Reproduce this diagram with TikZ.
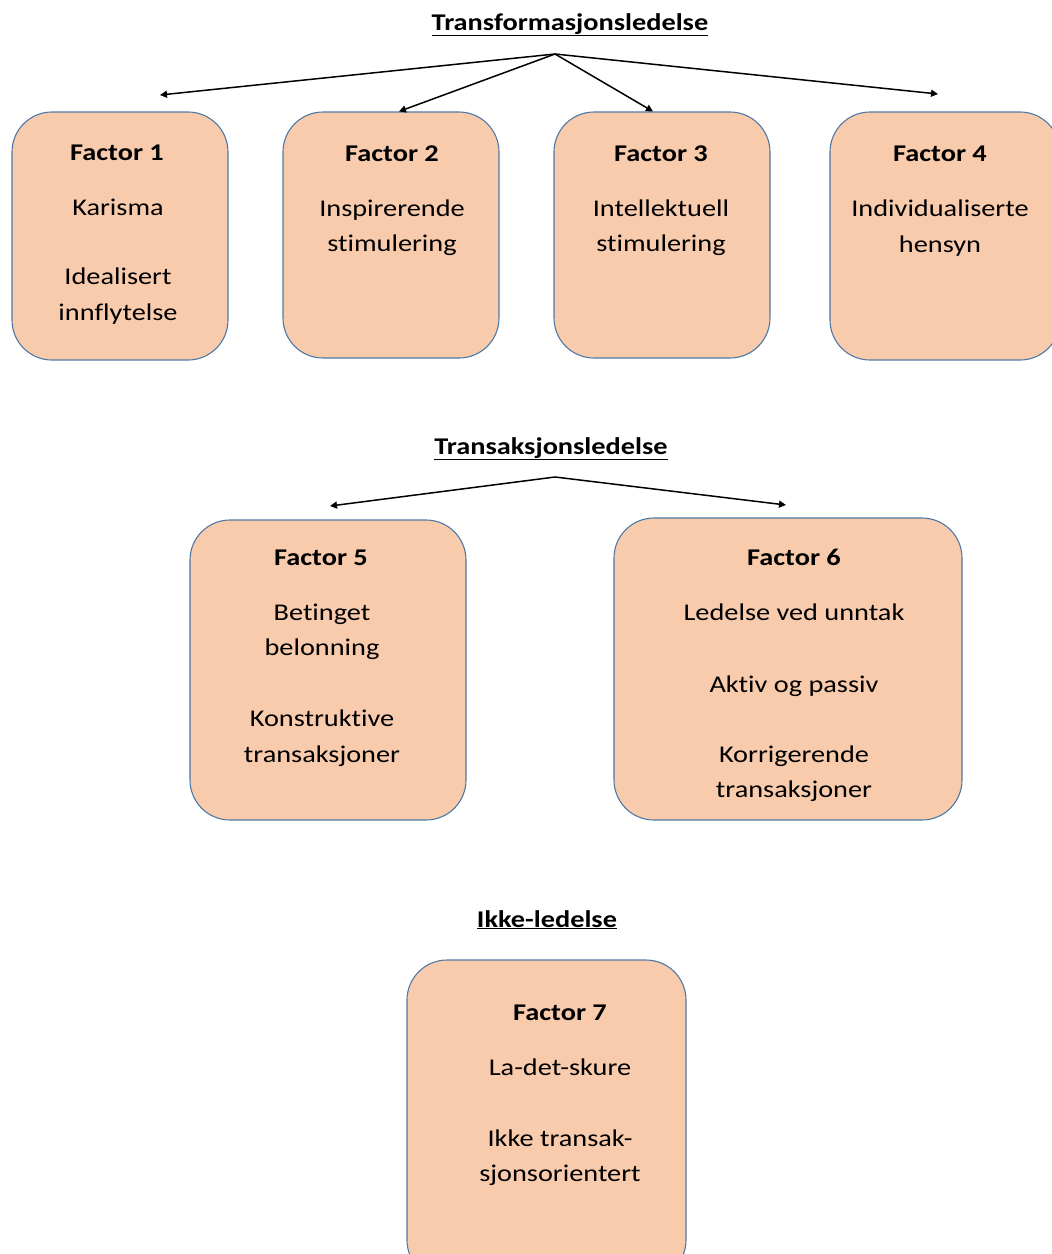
\documentclass[tikz,border=0pt]{standalone}
\usepackage{fontspec}
\setmainfont{Carlito}[FakeStretch=1.18, RawFeature={-liga;-clig;-calt;-dlig}]
\usetikzlibrary{arrows.meta}
\definecolor{boxfill}{HTML}{F8CBAD}
\definecolor{boxline}{HTML}{4F79A5}
\newcommand{\nl}{\kern0pt}
\tikzset{
  fbox/.style={draw=boxline, fill=boxfill, line width=1.1pt, rounded corners=40pt, inner sep=0pt},
  ftxt/.style={font=\fontsize{24}{29}\selectfont, inner sep=0pt, anchor=base},
  fhead/.style={font=\fontsize{24}{29}\selectfont\bfseries, inner sep=0pt, anchor=base},
  ttl/.style={font=\fontsize{24}{29}\selectfont\bfseries, inner sep=0pt, anchor=base},
  conn/.style={line width=1.5pt, -{Triangle[width=7pt,length=7pt]}}
}
\begin{document}
\begin{tikzpicture}[x=1pt,y=-1pt]
\useasboundingbox (0,0) rectangle (1052,1254);
\clip (0,0) rectangle (1052,1254);
% titles
\node[ttl] (t1) at (570,30) {\underline{Transformasjonsledelse}};
\node[ttl] (t2) at (551,454) {\underline{Transaksjonsledelse}};
\node[ttl] (t3) at (547,927) {\underline{Ikke-ledelse}};
% boxes
\node[fbox, minimum width=216pt, minimum height=248pt] (b1) at (120,236) {};
\node[fbox, minimum width=216pt, minimum height=246pt] (b2) at (391,235) {};
\node[fbox, minimum width=216pt, minimum height=246pt] (b3) at (662,235) {};
\node[fbox, minimum width=230pt, minimum height=248pt] (b4) at (945,236) {};
\node[fbox, minimum width=276pt, minimum height=300pt] (b5) at (328,670) {};
\node[fbox, minimum width=348pt, minimum height=302pt] (b6) at (788,669) {};
\node[fbox, minimum width=279pt, minimum height=320pt] (b7) at (546.5,1120) {};
% box 1
\node[fhead] (h1) at (117,160) {Factor 1};
\node[ftxt] (l11) at (118,215) {Karisma};
\node[ftxt] (l12) at (118,284) {Idealisert};
\node[ftxt] (l13) at (118,320) {innf\nl lytelse};
% box 2
\node[fhead] (h2) at (392,161) {Factor 2};
\node[ftxt] (l21) at (392,216) {Inspirerende};
\node[ftxt] (l22) at (392,251) {st\nl imulering};
% box 3
\node[fhead] (h3) at (661,161) {Factor 3};
\node[ftxt] (l31) at (661,216) {Intellektuell};
\node[ftxt] (l32) at (661,251) {st\nl imulering};
% box 4
\node[fhead] (h4) at (940,161) {Factor 4};
\node[ftxt] (l41) at (940,216) {Individualiserte};
\node[ftxt] (l42) at (940,252) {hensyn};
% box 5
\node[fhead] (h5) at (321,565) {Factor 5};
\node[ftxt] (l51) at (322,620) {Betinget};
\node[ftxt] (l52) at (322,655) {belonning};
\node[ftxt] (l53) at (322,726) {Konstrukt\nl ive};
\node[ftxt] (l54) at (322,762) {transaksjoner};
% box 6
\node[fhead] (h6) at (794,565) {Factor 6};
\node[ftxt] (l61) at (794,620) {Ledelse ved unntak};
\node[ftxt] (l62) at (794,692) {Akt\nl iv og passiv};
\node[ftxt] (l63) at (794,762) {Korrigerende};
\node[ftxt] (l64) at (794,797) {transaksjoner};
% box 7
\node[fhead] (h7) at (560,1020) {Factor 7};
\node[ftxt] (l71) at (560,1075) {La-det-skure};
\node[ftxt] (l72) at (560,1146) {Ikke transak-};
\node[ftxt] (l73) at (560,1181) {sjonsorientert};
% connectors
\coordinate (a1) at (555,54);
\coordinate (e1) at (160,95);
\coordinate (e4) at (938,94);
\draw[conn] (a1) -- (e1);
\draw[conn] (a1) -- (b2.north -| 399,0);
\draw[conn] (a1) -- (b3.north -| 653,0);
\draw[conn] (a1) -- (e4);
\coordinate (a2) at (555,477);
\coordinate (e5) at (330,506);
\coordinate (e6) at (786,505);
\draw[conn] (a2) -- (e5);
\draw[conn] (a2) -- (e6);
\end{tikzpicture}
\end{document}
